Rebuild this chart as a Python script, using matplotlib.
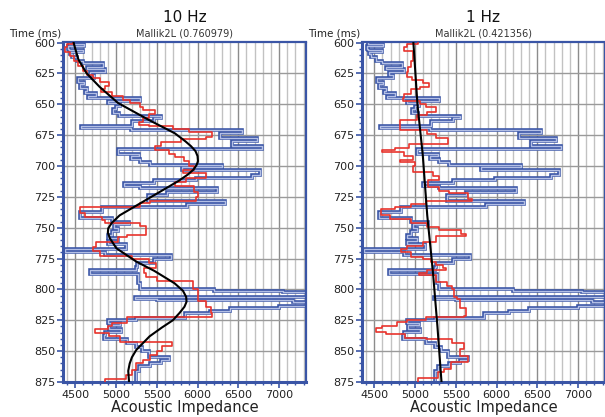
import numpy as np
import matplotlib
matplotlib.use("Agg")
import matplotlib.pyplot as plt
from matplotlib.ticker import MultipleLocator

# ----- Daten -----
T_END = 875

# Bohrloch-Log (blau), gleich in beiden Panels: Oberkante (ms), Impedanz
log_t = [600, 601, 603, 605.5, 606, 607.5, 609.5, 612, 615, 617, 619.5, 621.5, 623.5,
         626, 629, 632, 634, 636.5, 639, 641, 643, 645, 647.5, 649, 651.5, 653.5,
         657, 659.5, 661.5, 663.5, 667.5, 669.5, 671, 673.5, 677, 679.5, 683.5,
         686.5, 690, 692, 694.5, 697, 699, 701, 703, 707, 709.5, 711, 713.5, 716,
         718, 721, 723.5, 728, 731, 733, 737, 742.5, 745, 747, 750, 753, 756, 758,
         761, 763.5, 767.5, 770, 772.5, 775, 778.5, 782, 784.5, 787.5, 795, 800,
         801.5, 802.5, 806, 807.5, 808.5, 810, 813.5, 815, 817.5, 819.5, 823.5, 825,
         827, 829, 832, 834.5, 837, 840, 843.5, 847, 850, 855, 857, 860, 862, 866]
log_v = [4420, 4610, 4410, 4420, 4590, 4430, 4460, 4520, 4600, 4840, 4640, 4860, 4680,
         4730, 4530, 4610, 4560, 4650, 4620, 4760, 4660, 5300, 4900, 5050, 5000, 4960,
         5040, 5550, 5470, 5200, 4570, 5180, 6540, 6280, 6730, 6420, 6790,
         5020, 5280, 5180, 5300, 5420, 6300, 5810, 6770, 6670, 5980, 5470, 5100, 5300,
         6240, 5630, 5390, 6340, 5870, 4830, 4560, 4950, 5160, 4980, 5020, 4950, 4900, 5020,
         4900, 5120, 4370, 4860, 5670, 5460, 5260, 5250, 4680, 5270, 5290, 6200,
         7050, 7450, 5230, 5500, 7170, 7450, 7000, 6400, 6150, 5850, 5250, 4900,
         5050, 4920, 5060, 4870, 4850, 5140, 5250, 5320, 5400, 5650, 5550, 5420, 5280, 5250]

# Inversion 10 Hz (rot)
inv10_t = [600, 601.5, 604, 608, 611, 615, 619, 623, 626, 629, 632, 635.5, 638, 640,
           643.5, 646.5, 649, 652, 654.5, 658, 661, 664, 666.5, 668, 670, 672.5, 676.5,
           678.5, 680.5, 684, 687, 690, 692.5, 696, 700, 703, 706, 710, 713, 716.5,
           721, 725.5, 728, 730, 733, 738, 741, 744, 746, 749, 752, 756, 757.5, 762,
           766, 769, 773, 775, 779, 782.5, 787, 790, 793.5, 800, 809.5, 814, 819, 822,
           827, 830, 832, 835, 838, 842.5, 846, 849.5, 853, 857, 860, 865, 869, 872.5]
inv10_v = [4470, 4400, 4370, 4430, 4480, 4540, 4600, 4650, 4720, 4800, 4920, 4870, 4820, 4950,
           5080, 5170, 5290, 5330, 5480, 5400, 5330, 5280, 5400, 5700, 5900, 6180, 6100,
           5800, 5550, 5480, 5650, 5720, 5830, 5900, 5960, 5820, 6100, 5860, 5720, 5960,
           6000, 5980, 5420, 5300, 4560, 4620, 4830, 4860, 5300, 5370, 5370, 5130, 5020, 4760,
           4720, 4800, 5200, 5400, 5490, 5340, 5370, 5500, 5940, 6000, 6100, 6170, 6180, 5130,
           4950, 4900, 4740, 4920, 5050, 5690, 5560, 5500, 5420, 5330, 5250, 5200, 5120, 4870]

# Inversion 1 Hz (rot)
inv1_t = [600, 601.5, 604, 607, 615, 620, 624, 628, 630.5, 633, 636, 638, 642, 645, 647,
          650, 652.5, 656, 659, 663, 671, 674, 677.5, 682.5, 685.5, 687, 689, 692, 695,
          697, 700, 705, 708, 711, 717, 720, 722, 726.5, 728, 731, 733, 735, 740, 743,
          746.5, 749.5, 752, 755, 757, 762, 764.5, 767, 770, 773.5, 775.5, 778, 780, 783,
          784.5, 787, 788, 794, 797, 800, 806, 808, 815, 821.5, 822.5, 825, 826.5, 829.5,
          831.5, 834.5, 836.5, 839, 840.5, 843.5, 848.5, 854, 859, 864.5, 867, 871.5]
inv1_v = [5040, 4900, 4860, 4980, 4950, 4920, 4900, 4960, 5100, 5170, 5060, 4950, 4870, 4850, 5060,
          5130, 5260, 5150, 5030, 4820, 5150, 5260, 5400, 4930, 4750, 4600, 4870, 4970, 4820,
          5000, 4980, 5220, 5300, 5160, 5300, 5420, 5650, 5700, 5130, 4950, 4760, 4580, 4690, 4950,
          5150, 5300, 5560, 5620, 5260, 5100, 4900, 4830, 4950, 5100, 5200, 5260, 5340, 5380,
          5150, 5050, 5260, 5390, 5450, 5480, 5510, 5550, 5630, 5600, 5130, 4900, 4780, 4600,
          4520, 4650, 4880, 5140, 5450, 5600, 5550, 5650, 5440, 5350, 5280, 5040]

# Niederfrequenz-Modell (schwarz)
lf10_t = [600, 605, 614, 625, 636, 649, 663, 673.5, 680, 684, 688, 692, 696, 699, 703,
          707, 712, 718, 729, 740, 746, 750.5, 754, 758.6, 766.7, 777.5, 785, 795, 801,
          806, 810, 814, 819, 825, 831, 838, 849, 855, 860, 866, 875]
lf10_v = [4480, 4500, 4540, 4640, 4800, 5025, 5410, 5720, 5850, 5920, 5975, 6000, 6005, 5990, 5950,
          5880, 5770, 5615, 5330, 5045, 4950, 4905, 4900, 4925, 5005, 5250, 5470, 5717, 5820,
          5860, 5865, 5840, 5780, 5697, 5560, 5412, 5249, 5195, 5168, 5150, 5160]
lf1_t = [600, 650, 691, 740, 786, 830, 875]
lf1_v = [4980, 5030, 5095, 5150, 5220, 5275, 5325]

PANELS = [
    ("10 Hz", "Mallik2L (0.760979)", inv10_t, inv10_v, lf10_t, lf10_v),
    ("1 Hz", "Mallik2L (0.421356)", inv1_t, inv1_v, lf1_t, lf1_v),
]

BLUE = "#3a55a6"
RED = "#e8332c"


def stairs(tops, vals):
    # Treppenkurve entlang der Zeitachse
    t = np.append(np.asarray(tops, float), T_END)
    xs = np.repeat(np.asarray(vals, float), 2)
    ys = np.column_stack([t[:-1], t[1:]]).ravel()
    return xs, ys


fig = plt.figure(figsize=(6.05, 4.17), dpi=100)
lefts = [63 / 605, 362 / 605]

for left, (title, sub, it, iv, lt, lv) in zip(lefts, PANELS):
    ax = fig.add_axes([left, 35 / 417, 243 / 605, 339.5 / 417])
    ax.set_xlim(4350, 7330)
    ax.set_ylim(T_END, 600)

    # Gitter
    for x in range(4400, 7400, 100):
        c = "#8c8c8c" if x % 500 == 0 else "#c2c2c2"
        ax.axvline(x, color=c, lw=1.0, zorder=0)
    for y in range(625, 875, 25):
        ax.axhline(y, color="#9a9a9a", lw=1.0, zorder=0)

    bx, by = stairs(log_t, log_v)
    ax.plot(bx, by, color=BLUE, lw=2.6, zorder=2, solid_joinstyle="miter")
    ax.plot(bx, by, color="#b3bfe5", lw=1.0, zorder=2.1)
    rx, ry = stairs(it, iv)
    ax.plot(rx, ry, color=RED, lw=1.2, zorder=3)
    ax.plot(lv, lt, color="black", lw=1.5, zorder=4)

    ax.xaxis.set_major_locator(MultipleLocator(500))
    ax.xaxis.set_minor_locator(MultipleLocator(100))
    ax.yaxis.set_major_locator(MultipleLocator(25))
    ax.yaxis.set_minor_locator(MultipleLocator(5))
    ax.set_xticks(range(4500, 7001, 500))
    ax.tick_params(which="both", color=BLUE, labelsize=8, labelcolor="#222222")
    ax.tick_params(which="major", length=4, width=1.2)
    ax.tick_params(which="minor", length=2.5, width=1.0)
    ax.tick_params(axis="x", pad=2)
    ax.tick_params(axis="y", pad=1.5)
    for s in ax.spines.values():
        s.set_color(BLUE)
        s.set_linewidth(1.6)
    ax.spines["bottom"].set_linewidth(2.2)
    ax.spines["left"].set_linewidth(2.2)

    ax.set_xlabel("Acoustic Impedance", fontsize=10.5, labelpad=0, color="#222222")
    ax.text(0.5, 1.052, title, transform=ax.transAxes, ha="center", va="bottom",
            fontsize=11, color="#111111")
    ax.text(0.5, 1.012, sub, transform=ax.transAxes, ha="center", va="bottom",
            fontsize=7, color="#333333")
    ax.text(-0.005, 1.012, "Time (ms)", transform=ax.transAxes, ha="right", va="bottom",
            fontsize=7.5, color="#222222")

fig.savefig("out.png", dpi=100)
